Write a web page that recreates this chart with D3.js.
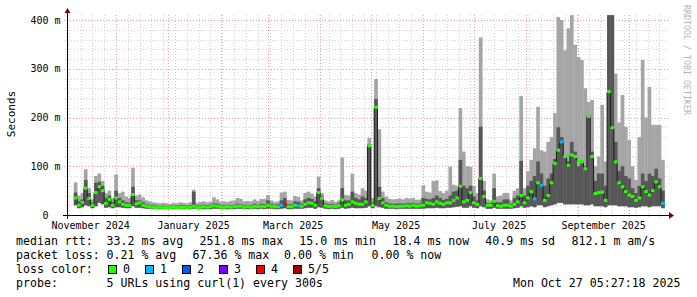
<!DOCTYPE html>
<html>
<head>
<meta charset="utf-8">
<script src="https://cdn.jsdelivr.net/npm/d3@7"></script>
<style>
body { margin: 0; background: #fff; }
svg { display: block; }
text { font-family: "DejaVu Sans Mono", monospace; white-space: pre; }
</style>
</head>
<body>
<svg width="697" height="297"></svg>
<script>
// smokeping rtt, one entry per 2 day bin starting 2024-11-06, in ms
var binStart = "2024-11-06";
var binDays = 2;

var median = [35,20,26,55,34,20,46,58,50,24,32,20,35,27,22,20,20,42,23,25,20,18,17,16,15,16,15,15,
  15,16,15,16,16,15,16,18,15,16,17,16,17,19,18,16,16,17,16,17,18,18,16,17,16,18,17,18,17,
  20,18,17,17,20,22,17,17,20,19,18,22,25,24,20,46,34,19,17,18,17,19,31,20,22,27,24,22,22,27,
  142,20,221,34,25,20,18,18,17,18,18,19,18,20,18,19,20,25,24,22,27,24,22,25,25,30,35,59,27,
  30,46,25,22,75,38,20,20,28,19,18,20,20,18,22,27,40,25,35,48,33,66,61,30,40,66,106,133,150,120,
  102,123,120,110,109,95,202,120,44,46,47,30,253,179,109,66,58,48,41,38,30,35,58,48,41,50,68,58,24];

var minRtt = [20,14,16,20,18,14,18,25,22,15,16,14,16,16,15,14,14,18,15,15,14,13,13,12,12,12,12,12,
  12,12,12,12,12,12,12,13,12,12,12,12,12,13,13,12,12,12,12,12,13,13,12,12,12,13,12,13,12,
  13,13,12,12,13,14,12,12,13,13,13,14,15,15,13,16,15,13,12,13,12,13,15,13,14,15,14,14,14,15,
  18,14,18,16,15,13,13,13,12,13,13,13,13,13,13,13,13,14,14,14,15,14,14,15,15,16,17,18,15,
  15,18,15,14,18,16,13,13,15,13,13,13,13,13,14,15,18,15,16,18,16,20,20,16,18,20,22,25,25,22,
  22,22,22,22,22,20,20,22,18,18,18,16,20,20,20,18,18,18,16,16,15,16,18,18,16,18,18,18,14];

var innerTop = [46,28,32,72,45,25,66,68,60,35,40,26,50,35,30,26,25,58,30,30,26,22,21,20,19,19,19,18,
  19,19,19,20,20,19,20,48,19,20,21,20,21,24,23,20,20,21,20,21,23,22,20,21,20,23,21,23,22,
  30,23,21,22,30,35,22,22,28,27,23,32,35,33,28,55,38,24,22,23,21,24,55,30,30,48,35,32,38,35,
  145,25,238,58,35,26,24,23,23,24,23,24,24,25,23,24,35,33,32,35,40,35,31,33,40,48,50,113,60,
  55,60,38,30,181,50,25,24,55,26,26,32,32,23,35,40,111,40,60,70,80,110,85,60,75,85,115,180,160,120,
  110,150,130,100,110,100,205,130,70,85,85,60,410,410,150,90,100,80,75,55,45,60,85,70,85,80,95,75,50];

var maxRtt = [67,40,45,94,55,32,80,85,70,45,50,35,83,45,48,38,35,97,40,42,36,30,28,26,25,24,25,24,
  23,25,24,26,25,24,26,52,25,27,28,26,27,36,32,27,28,27,29,30,35,33,28,29,28,32,29,33,33,
  41,30,27,28,46,48,31,30,39,37,30,45,48,44,38,79,45,30,28,31,27,30,118,41,40,85,45,42,55,50,
  158,35,279,176,48,38,33,32,33,34,32,35,34,35,31,32,61,48,46,70,71,49,45,50,99,62,60,219,130,
  100,99,60,45,364,70,32,30,85,38,40,45,45,30,50,55,244,55,90,113,137,222,133,130,150,160,209,406,400,338,
  383,410,349,324,318,260,232,236,100,120,226,110,410,410,290,190,246,181,154,100,72,160,318,200,263,185,185,185,113];

// bins where some pings were lost, and how many
var lossBins = [61, 62, 66, 136, 138, 144, 174];
var lossCount = [1, 4, 1, 1, 1, 1, 1];

var yTicks = [0, 100, 200, 300, 400];
var yTickLabels = ["0  ", "100 m", "200 m", "300 m", "400 m"];

var lossLabels = ["0", "1", "2", "3", "4", "5/5"];
var lossColors = ["#26ff00", "#00b8ff", "#0059ff", "#7e00ff", "#ff0000", "#a00000"];

var legendRtt = ["median rtt:", "33.2 ms avg", "251.8 ms max", "15.0 ms min", "18.4 ms now", "40.9 ms sd", "812.1 m am/s"];
var legendLoss = ["packet loss:", "0.21 % avg", "67.36 % max", "0.00 % min", "0.00 % now"];
var probeText = "5 URLs using curl(1) every 300s";
var stampText = "Mon Oct 27 05:27:18 2025";

var svg = d3.select("svg");

var plotL = 67, plotR = 667, plotT = 15, plotB = 215;

var x = d3.scaleUtc()
  .domain([new Date("2024-11-02T00:00Z"), new Date("2025-10-23T12:00Z")])
  .range([plotL, plotR]);
var y = d3.scaleLinear().domain([0, 410.26]).range([plotB, plotT]);

var t0 = new Date(binStart + "T00:00Z");
var bins = median.map(function(m, i) {
  var k = lossBins.indexOf(i);
  return {
    t: d3.utcDay.offset(t0, i * binDays),
    t1: d3.utcDay.offset(t0, (i + 1) * binDays),
    med: m, lo: minRtt[i], mid: innerTop[i], hi: maxRtt[i],
    loss: k >= 0 ? lossCount[k] : 0
  };
});

svg.append("defs").append("clipPath").attr("id", "plot")
  .append("rect").attr("x", plotL).attr("y", plotT)
  .attr("width", plotR - plotL).attr("height", plotB - plotT);

// grid
var grid = svg.append("g");
var weeks = d3.utcSunday.range(x.domain()[0], x.domain()[1]);
var months = d3.utcMonth.range(x.domain()[0], x.domain()[1]);
var px = v => Math.round(v) + 0.5;

grid.selectAll(".wk").data(weeks).enter().append("line")
  .attr("x1", d => px(x(d))).attr("x2", d => px(x(d)))
  .attr("y1", plotT).attr("y2", plotB + 2)
  .attr("stroke", "#d2d2d2").attr("stroke-dasharray", "1,2");

var minorY = d3.range(20, 410, 20).filter(v => v % 100 != 0);
grid.selectAll(".hy").data(minorY).enter().append("line")
  .attr("x1", plotL - 2).attr("x2", plotR)
  .attr("y1", d => px(y(d))).attr("y2", d => px(y(d)))
  .attr("stroke", "#d2d2d2").attr("stroke-dasharray", "1,2");

grid.selectAll(".mo").data(months).enter().append("line")
  .attr("x1", d => px(x(d))).attr("x2", d => px(x(d)))
  .attr("y1", plotT).attr("y2", plotB + 3)
  .attr("stroke", "#e6a0a0").attr("stroke-dasharray", "1,2");

grid.selectAll(".my").data(yTicks.slice(1)).enter().append("line")
  .attr("x1", plotL - 3).attr("x2", plotR + 2)
  .attr("y1", d => px(y(d))).attr("y2", d => px(y(d)))
  .attr("stroke", "#e6a0a0").attr("stroke-dasharray", "1,2");

// smoke
var plot = svg.append("g").attr("clip-path", "url(#plot)");

plot.selectAll(".outer").data(bins).enter().append("rect")
  .attr("x", d => x(d.t)).attr("width", d => x(d.t1) - x(d.t) + 0.3)
  .attr("y", d => y(d.hi)).attr("height", d => y(d.lo) - y(d.hi))
  .attr("fill", "#a5a5a5");

plot.selectAll(".inner").data(bins).enter().append("rect")
  .attr("x", d => x(d.t)).attr("width", d => x(d.t1) - x(d.t) + 0.3)
  .attr("y", d => y(d.mid)).attr("height", d => y(d.lo) - y(d.mid))
  .attr("fill", "#575757");

// median line and loss coloured band
var line = d3.line()
  .x(d => (x(d.t) + x(d.t1)) / 2)
  .y(d => y(d.med))
  .curve(d3.curveStep);
plot.append("path").datum(bins)
  .attr("d", line).attr("fill", "none")
  .attr("stroke", "#1e1e1e").attr("stroke-width", 1);

plot.selectAll(".med").data(bins).enter().append("rect")
  .attr("x", d => x(d.t)).attr("width", d => x(d.t1) - x(d.t) + 0.3)
  .attr("y", d => y(d.med) - 1.5).attr("height", 3)
  .attr("fill", d => lossColors[d.loss]);

// axes
var axis = svg.append("g");
axis.append("line").attr("x1", plotL - 4).attr("x2", plotR + 3)
  .attr("y1", plotB + 0.5).attr("y2", plotB + 0.5).attr("stroke", "#000");
axis.append("line").attr("x1", plotL + 0.5).attr("x2", plotL + 0.5)
  .attr("y1", plotB + 4).attr("y2", plotT - 2).attr("stroke", "#000");
axis.append("path")
  .attr("d", "M" + (plotR + 2) + "," + (plotB - 3) + "L" + (plotR + 2) + "," + (plotB + 4) +
    "L" + (plotR + 7) + "," + (plotB + 0.5) + "Z")
  .attr("fill", "#7f0000");
axis.append("path")
  .attr("d", "M" + (plotL - 2.5) + "," + (plotT - 2) + "L" + (plotL + 3.5) + "," + (plotT - 2) +
    "L" + (plotL + 0.5) + "," + (plotT - 7) + "Z")
  .attr("fill", "#7f0000");

// tick labels
svg.selectAll(".yl").data(yTicks).enter().append("text")
  .attr("x", 60.5).attr("y", d => y(d) + 3.6)
  .attr("text-anchor", "end").attr("font-size", "10px")
  .text((d, i) => yTickLabels[i]);

var labelMonths = d3.utcMonth.every(2).range(d3.utcMonth.floor(x.domain()[0]), x.domain()[1]);
svg.selectAll(".xl").data(labelMonths).enter().append("text")
  .attr("x", d => x(d3.utcDay.offset(d, 15)))
  .attr("y", 228.5)
  .attr("text-anchor", "middle").attr("font-size", "10px")
  .text(d => d3.utcFormat("%B %Y")(d));

svg.append("text")
  .attr("transform", "translate(15,114) rotate(-90)")
  .attr("text-anchor", "middle").attr("font-size", "11px")
  .text("Seconds");

svg.append("text")
  .attr("transform", "translate(684,5) rotate(90)")
  .attr("font-size", "8.3px").attr("fill", "#b4b4b4")
  .text("RRDTOOL / TOBI OETIKER");

// legend
var lg = svg.append("g").attr("font-size", "11.6px");
var rttX = [16, 106.5, 199.5, 299.3, 392.5, 485.3, 571.5];
lg.selectAll(".r1").data(legendRtt).enter().append("text")
  .attr("x", (d, i) => rttX[i]).attr("y", 245).text(d => d);

var lossX = [16, 106.5, 192.5, 284, 371.5];
lg.selectAll(".r2").data(legendLoss).enter().append("text")
  .attr("x", (d, i) => lossX[i]).attr("y", 259).text(d => d);

lg.append("text").attr("x", 16).attr("y", 273).text("loss color:");
lossLabels.forEach(function(lab, i) {
  var bx = 108.5 + i * 37;
  lg.append("rect").attr("x", bx).attr("y", 265.5).attr("width", 8).attr("height", 8)
    .attr("fill", lossColors[i]).attr("stroke", "#000");
  lg.append("text").attr("x", bx + 14.5).attr("y", 273).text(lab);
});

lg.append("text").attr("x", 16).attr("y", 287).text("probe:");
lg.append("text").attr("x", 106.5).attr("y", 287).text(probeText);
lg.append("text").attr("x", 680.5).attr("y", 287).attr("text-anchor", "end").text(stampText);
</script>
</body>
</html>
